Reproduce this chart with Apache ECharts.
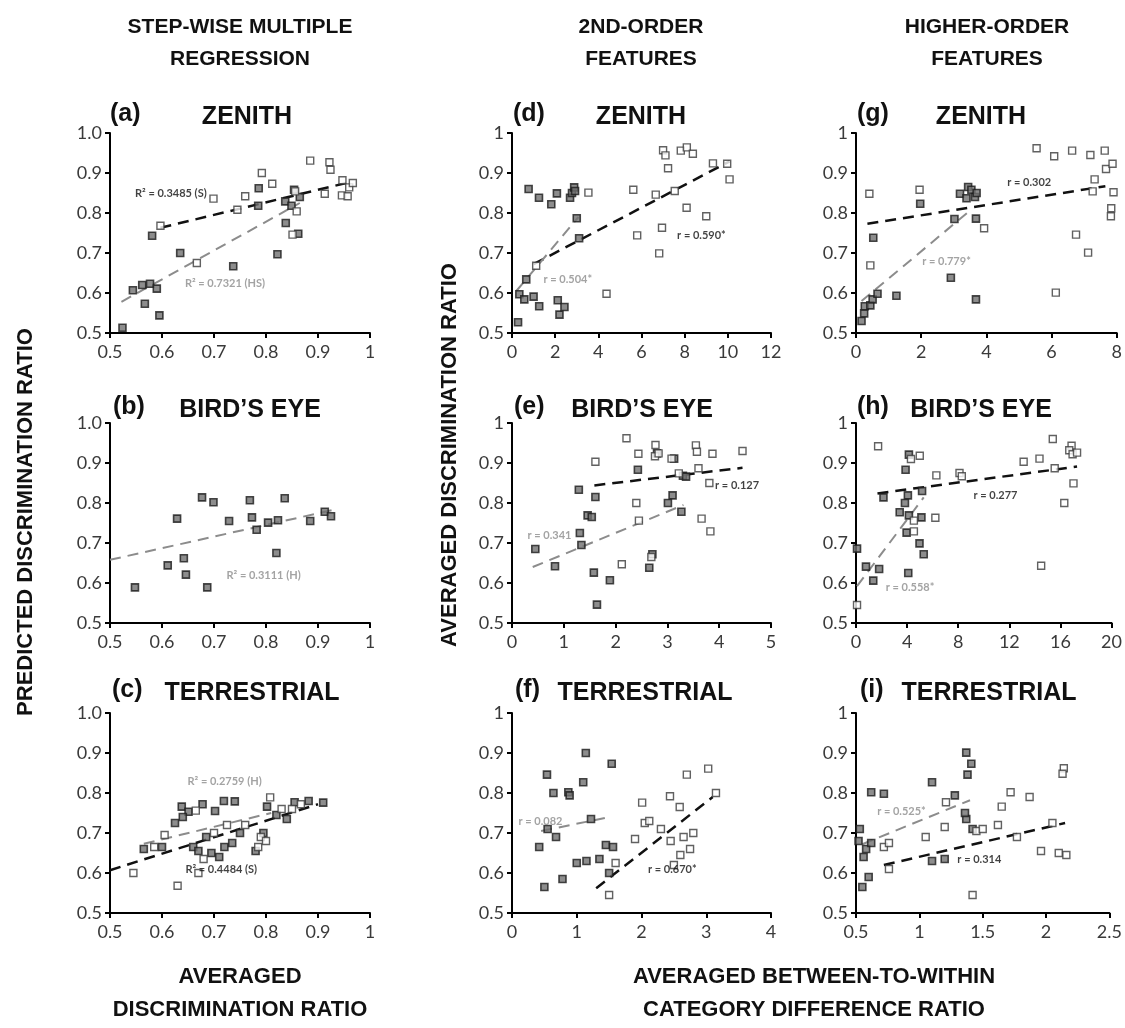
<!DOCTYPE html>
<html><head><meta charset="utf-8">
<script src="https://cdn.jsdelivr.net/npm/echarts/dist/echarts.min.js"></script>
<style>html,body{margin:0;padding:0;background:#fff}#c{width:1125px;height:1028px}</style>
</head><body><div id="c"></div>
<script>
// ---------- DATA ----------
// (a) Zenith, step-wise multiple regression
const aFilled = [[0.524,0.513],[0.544,0.607],[0.562,0.62],[0.577,0.623],[0.567,0.573],[0.59,0.611],[0.595,0.544],[0.581,0.743],[0.635,0.70],[0.737,0.667],[0.786,0.862],[0.785,0.818],[0.822,0.697],[0.838,0.775],[0.837,0.829],[0.849,0.818],[0.854,0.858],[0.865,0.84],[0.862,0.748]];
const aOpen = [[0.597,0.768],[0.667,0.675],[0.699,0.836],[0.745,0.808],[0.76,0.842],[0.792,0.90],[0.812,0.873],[0.851,0.746],[0.859,0.804],[0.856,0.854],[0.885,0.931],[0.913,0.848],[0.922,0.927],[0.924,0.908],[0.947,0.882],[0.946,0.844],[0.957,0.842],[0.96,0.864],[0.967,0.875]];
const aTrendBlack = [[0.597,0.763],[0.967,0.879]];
const aTrendGray = [[0.522,0.578],[0.865,0.825]];
const aLabelBlack = [0.548,0.85];
const aLabelGray = [0.644,0.625];
// (b) Bird's eye
const bFilled = [[0.629,0.761],[0.677,0.814],[0.699,0.802],[0.729,0.755],[0.769,0.807],[0.773,0.764],[0.782,0.733],[0.804,0.751],[0.823,0.757],[0.836,0.812],[0.82,0.675],[0.885,0.755],[0.913,0.778],[0.925,0.767],[0.642,0.662],[0.548,0.589],[0.611,0.644],[0.646,0.621],[0.687,0.589]];
const bOpen = [];
const bTrendGray = [[0.5,0.658],[0.927,0.782]];
const bLabelGray = [0.724,0.62];
// (c) Terrestrial
const cFilled = [[0.638,0.766],[0.651,0.753],[0.678,0.772],[0.702,0.755],[0.719,0.78],[0.74,0.779],[0.802,0.766],[0.855,0.777],[0.882,0.78],[0.91,0.776],[0.565,0.66],[0.6,0.665],[0.625,0.725],[0.64,0.74],[0.66,0.665],[0.67,0.655],[0.685,0.69],[0.695,0.65],[0.71,0.64],[0.72,0.665],[0.735,0.675],[0.75,0.70],[0.78,0.655],[0.795,0.70],[0.82,0.745],[0.84,0.735]];
const cOpen = [[0.665,0.756],[0.808,0.789],[0.867,0.772],[0.545,0.60],[0.585,0.665],[0.605,0.695],[0.63,0.568],[0.67,0.60],[0.68,0.635],[0.70,0.70],[0.725,0.72],[0.76,0.72],[0.785,0.665],[0.79,0.69],[0.80,0.68],[0.83,0.76],[0.85,0.76]];
const cTrendGray = [[0.565,0.673],[0.81,0.75]];
const cTrendBlack = [[0.5,0.607],[0.9,0.772]];
const cLabelGray = [0.649,0.828];
const cLabelBlack = [0.645,0.61];
// (d) Zenith, 2nd-order features
const dFilled = [[0.28,0.527],[0.34,0.597],[0.57,0.584],[0.66,0.634],[1.0,0.591],[1.26,0.567],[0.77,0.86],[1.25,0.838],[1.82,0.822],[2.08,0.849],[2.12,0.582],[2.2,0.546],[2.43,0.565],[2.69,0.838],[2.78,0.85],[2.88,0.864],[2.92,0.855],[3.0,0.787],[3.11,0.737]];
const dOpen = [[1.12,0.668],[3.54,0.851],[4.38,0.598],[5.62,0.858],[5.8,0.744],[6.66,0.846],[6.82,0.699],[6.95,0.763],[7.0,0.957],[7.11,0.944],[7.23,0.912],[7.54,0.855],[7.82,0.956],[8.1,0.964],[8.09,0.813],[8.38,0.948],[9.0,0.792],[9.31,0.924],[9.97,0.923],[10.08,0.884]];
const dTrendBlack = [[1.0,0.672],[10.08,0.929]];
const dTrendGray = [[0.2,0.605],[3.08,0.79]];
const dLabelBlack = [7.65,0.744];
const dLabelGray = [1.46,0.633];
// (e) Bird's eye, 2nd-order features
const eFilled = [[0.45,0.685],[1.29,0.833],[1.31,0.725],[1.34,0.695],[1.46,0.769],[1.54,0.765],[1.61,0.815],[2.43,0.883],[2.8,0.924],[3.13,0.911],[3.3,0.868],[3.36,0.866],[3.1,0.819],[3.01,0.80],[3.27,0.778],[2.71,0.672],[0.83,0.642],[1.58,0.626],[1.64,0.546],[1.89,0.607],[2.65,0.638]];
const eOpen = [[1.61,0.903],[2.21,0.962],[2.44,0.923],[2.77,0.945],[2.76,0.917],[2.83,0.924],[3.08,0.911],[3.22,0.874],[3.55,0.944],[3.57,0.928],[3.6,0.887],[3.87,0.923],[3.81,0.85],[3.66,0.761],[3.83,0.729],[2.4,0.80],[2.45,0.756],[2.12,0.647],[2.69,0.665],[4.45,0.93]];
const eTrendBlack = [[1.59,0.844],[4.45,0.888]];
const eTrendGray = [[0.4,0.64],[3.31,0.795]];
const eLabelBlack = [3.92,0.845];
const eLabelGray = [0.3,0.72];
// (f) Terrestrial, 2nd-order features
const fFilled = [[0.54,0.846],[0.64,0.80],[0.87,0.802],[0.89,0.794],[1.10,0.827],[1.14,0.90],[1.54,0.873],[0.42,0.665],[0.5,0.565],[0.55,0.71],[0.68,0.69],[0.78,0.585],[1.0,0.625],[1.15,0.63],[1.22,0.735],[1.35,0.635],[1.45,0.67],[1.5,0.60],[1.56,0.665]];
const fOpen = [[2.01,0.776],[2.44,0.792],[2.59,0.765],[2.70,0.846],[3.03,0.861],[3.15,0.80],[1.5,0.545],[1.6,0.625],[1.9,0.685],[2.05,0.725],[2.12,0.73],[2.3,0.71],[2.45,0.68],[2.5,0.62],[2.6,0.645],[2.65,0.69],[2.75,0.66],[2.8,0.70]];
const fTrendGray = [[0.45,0.705],[1.45,0.738]];
const fTrendBlack = [[1.3,0.562],[3.1,0.79]];
const fLabelGray = [0.1,0.73];
const fLabelBlack = [2.1,0.61];
// (g) Zenith, higher-order features
const gFilled = [[0.17,0.53],[0.25,0.549],[0.27,0.567],[0.44,0.569],[0.51,0.584],[0.66,0.598],[0.53,0.738],[1.24,0.593],[1.97,0.823],[2.91,0.638],[3.02,0.785],[3.19,0.848],[3.44,0.865],[3.39,0.837],[3.54,0.858],[3.65,0.84],[3.7,0.85],[3.68,0.786],[3.68,0.584]];
const gOpen = [[0.41,0.848],[0.44,0.669],[1.95,0.858],[3.93,0.762],[5.54,0.962],[6.08,0.942],[6.13,0.601],[6.63,0.956],[6.75,0.746],[7.12,0.701],[7.19,0.945],[7.32,0.884],[7.26,0.854],[7.63,0.956],[7.67,0.91],[7.87,0.923],[7.9,0.852],[7.83,0.812],[7.82,0.792]];
const gTrendBlack = [[0.35,0.773],[7.65,0.867]];
const gTrendGray = [[0.17,0.58],[3.44,0.802]];
const gLabelBlack = [4.64,0.877];
const gLabelGray = [2.03,0.679];
// (h) Bird's eye, higher-order features
const hFilled = [[2.15,0.814],[3.88,0.883],[4.06,0.819],[3.83,0.80],[3.42,0.777],[4.14,0.769],[3.96,0.726],[5.12,0.764],[5.17,0.83],[4.97,0.699],[5.3,0.672],[0.08,0.686],[4.14,0.921],[0.78,0.641],[1.81,0.635],[1.35,0.606],[4.09,0.625]];
const hOpen = [[1.73,0.942],[4.3,0.91],[4.99,0.918],[6.29,0.869],[8.1,0.875],[8.28,0.867],[6.21,0.763],[4.53,0.756],[4.53,0.729],[13.12,0.903],[14.36,0.911],[15.4,0.96],[15.55,0.887],[16.87,0.943],[16.69,0.932],[16.95,0.922],[17.3,0.926],[17.02,0.849],[16.3,0.80],[0.08,0.545],[14.49,0.643]];
const hTrendBlack = [[1.68,0.824],[17.3,0.891]];
const hTrendGray = [[0.08,0.592],[5.3,0.814]];
const hLabelBlack = [9.19,0.82];
const hLabelGray = [2.33,0.588];
// (i) Terrestrial, higher-order features
const iFilled = [[0.62,0.802],[0.72,0.798],[1.10,0.827],[1.28,0.794],[1.37,0.901],[1.41,0.873],[1.38,0.846],[0.52,0.68],[0.53,0.71],[0.55,0.565],[0.56,0.64],[0.58,0.66],[0.6,0.59],[0.62,0.675],[1.1,0.63],[1.2,0.635],[1.37,0.735],[1.42,0.71],[1.36,0.75]];
const iOpen = [[1.21,0.777],[1.65,0.766],[1.72,0.802],[1.87,0.79],[2.14,0.862],[2.13,0.848],[0.72,0.665],[0.76,0.675],[0.76,0.61],[1.05,0.69],[1.2,0.715],[1.45,0.705],[1.5,0.71],[1.42,0.545],[1.62,0.72],[1.77,0.69],[1.96,0.655],[2.05,0.725],[2.1,0.65],[2.16,0.645]];
const iTrendGray = [[0.55,0.672],[1.4,0.782]];
const iTrendBlack = [[0.72,0.62],[2.15,0.725]];
const iLabelGray = [0.667,0.754];
const iLabelBlack = [1.3,0.635];

// axis ranges [min, max, interval]
const xRange1 = [0.5, 1, 0.1];
const yRange = [0.5, 1, 0.1];
const xRangeD = [0, 12, 2], xRangeE = [0, 5, 1], xRangeF = [0, 4, 1];
const xRangeG = [0, 8, 2], xRangeH = [0, 20, 4], xRangeI = [0.5, 2.5, 0.5];

const headers = [['STEP-WISE MULTIPLE','REGRESSION'],['2ND-ORDER','FEATURES'],['HIGHER-ORDER','FEATURES']];
const panelTags = ['(a)','(b)','(c)','(d)','(e)','(f)','(g)','(h)','(i)'];
const panelNames = ['ZENITH','BIRD’S EYE','TERRESTRIAL','ZENITH','BIRD’S EYE','TERRESTRIAL','ZENITH','BIRD’S EYE','TERRESTRIAL'];

// ---------- LAYOUT ----------
const colLeft = [110, 512, 856];
const colW = [260, 259, 262];
const rowTop = [133, 423, 713];
const rowH = 200;
const BLACK = '#111', GRAY = '#8c8c8c';

const panels = [
  {c:0,r:0,x:xRange1,xf:'c1',yf:'c1',f:aFilled,o:aOpen,t:[[aTrendBlack,BLACK],[aTrendGray,GRAY]],l:[[aLabelBlack,'R² = 0.3485 (S)',BLACK],[aLabelGray,'R² = 0.7321 (HS)',GRAY]]},
  {c:0,r:1,x:xRange1,xf:'c1',yf:'c1',f:bFilled,o:bOpen,t:[[bTrendGray,GRAY]],l:[[bLabelGray,'R² = 0.3111 (H)',GRAY]]},
  {c:0,r:2,x:xRange1,xf:'c1',yf:'c1',f:cFilled,o:cOpen,t:[[cTrendGray,GRAY],[cTrendBlack,BLACK]],l:[[cLabelGray,'R² = 0.2759 (H)',GRAY],[cLabelBlack,'R² = 0.4484 (S)',BLACK]]},
  {c:1,r:0,x:xRangeD,xf:'n',yf:'n',f:dFilled,o:dOpen,t:[[dTrendBlack,BLACK],[dTrendGray,GRAY]],l:[[dLabelBlack,'r = 0.590*',BLACK],[dLabelGray,'r = 0.504*',GRAY]]},
  {c:1,r:1,x:xRangeE,xf:'n',yf:'n',f:eFilled,o:eOpen,t:[[eTrendBlack,BLACK],[eTrendGray,GRAY]],l:[[eLabelBlack,'r = 0.127',BLACK],[eLabelGray,'r = 0.341',GRAY]]},
  {c:1,r:2,x:xRangeF,xf:'n',yf:'n',f:fFilled,o:fOpen,t:[[fTrendGray,GRAY],[fTrendBlack,BLACK]],l:[[fLabelGray,'r = 0.082',GRAY],[fLabelBlack,'r = 0.670*',BLACK]]},
  {c:2,r:0,x:xRangeG,xf:'n',yf:'n',f:gFilled,o:gOpen,t:[[gTrendBlack,BLACK],[gTrendGray,GRAY]],l:[[gLabelBlack,'r = 0.302',BLACK],[gLabelGray,'r = 0.779*',GRAY]]},
  {c:2,r:1,x:xRangeH,xf:'n',yf:'n',f:hFilled,o:hOpen,t:[[hTrendBlack,BLACK],[hTrendGray,GRAY]],l:[[hLabelBlack,'r = 0.277',BLACK],[hLabelGray,'r = 0.558*',GRAY]]},
  {c:2,r:2,x:xRangeI,xf:'n',yf:'n',f:iFilled,o:iOpen,t:[[iTrendGray,GRAY],[iTrendBlack,BLACK]],l:[[iLabelGray,'r = 0.525*',GRAY],[iLabelBlack,'r = 0.314',BLACK]]}
];
// title word centre x per panel
const nameCX = [247,250,252,641,642,645,981,981,989];
const tagLeft = [110,113,112,513,514,515,857,857,860];
const titleY = [117,410,693];

function fmtX(kind){return function(v){ if(kind==='c1'){return Math.abs(v-1)<1e-9?'1':v.toFixed(1);} return String(+v.toFixed(2)); };}
function fmtY(kind){return function(v){ if(kind==='c1'){return v.toFixed(1);} return Math.abs(v-1)<1e-9?'1':v.toFixed(1); };}

const grids=[], xAxes=[], yAxes=[], series=[], graphics=[];
const axisCommon = {
  axisLine:{show:true,onZero:false,lineStyle:{color:'#000',width:2}},
  axisTick:{show:true,inside:false,length:5,lineStyle:{color:'#000',width:2}},
  splitLine:{show:false}
};
const labelFont = {fontFamily:'Lato, "Noto Sans", sans-serif',fontSize:18,color:'#3a3a3a'};

panels.forEach((p,i)=>{
  grids.push({left:colLeft[p.c],top:rowTop[p.r],width:colW[p.c],height:rowH,containLabel:false});
  xAxes.push(Object.assign({gridIndex:i,type:'value',min:p.x[0],max:p.x[1],interval:p.x[2],
    axisLabel:Object.assign({formatter:fmtX(p.xf),margin:10},labelFont)},axisCommon));
  yAxes.push(Object.assign({gridIndex:i,type:'value',min:yRange[0],max:yRange[1],interval:yRange[2],
    axisLabel:Object.assign({formatter:fmtY(p.yf),margin:8},labelFont)},axisCommon));
  p.t.forEach(tr=>{
    series.push({type:'line',xAxisIndex:i,yAxisIndex:i,data:tr[0],symbol:'none',silent:true,z:2,
      lineStyle:{color:tr[1],width:tr[1]===BLACK?2.5:2,type:[11,7]}});
  });
  series.push({type:'scatter',xAxisIndex:i,yAxisIndex:i,data:p.f,symbol:'rect',symbolSize:7,z:3,
    itemStyle:{color:'#707070',borderColor:'#1c1c1c',borderWidth:1.6}});
  series.push({type:'scatter',xAxisIndex:i,yAxisIndex:i,data:p.o,symbol:'rect',symbolSize:7,z:3,
    itemStyle:{color:'#ffffff',borderColor:'#3a3a3a',borderWidth:1.4}});
  p.l.forEach(lb=>{
    series.push({type:'scatter',xAxisIndex:i,yAxisIndex:i,data:[lb[0]],symbolSize:0,z:4,silent:true,
      label:{show:true,position:'right',distance:0,formatter:lb[1],color:lb[2],
        fontFamily:'Lato, "Noto Sans", sans-serif',fontSize:11,fontWeight:'bold'}});
  });
  const ty = titleY[p.r];
  graphics.push({type:'text',left:tagLeft[i],top:ty-15,style:{text:panelTags[i],font:'bold 25px "Liberation Sans", Arial, sans-serif',fill:'#111'}});
  graphics.push({type:'text',x:nameCX[i],y:ty,style:{text:panelNames[i],font:'bold 25px "Liberation Sans", Arial, sans-serif',fill:'#111',textAlign:'center',textVerticalAlign:'middle'}});
});

const hdrCX = [240, 641, 987];
headers.forEach((h,k)=>{
  h.forEach((line,j)=>{
    graphics.push({type:'text',x:hdrCX[k],y:27+j*32,style:{text:line,font:'bold 21px "Liberation Sans", Arial, sans-serif',fill:'#111',textAlign:'center',textVerticalAlign:'middle'}});
  });
});
// axis titles
graphics.push({type:'text',x:26,y:522,rotation:Math.PI/2,style:{text:'PREDICTED DISCRIMINATION RATIO',font:'bold 22px "Liberation Sans", Arial, sans-serif',fill:'#111',textAlign:'center',textVerticalAlign:'middle'}});
graphics.push({type:'text',x:450,y:455,rotation:Math.PI/2,style:{text:'AVERAGED DISCRIMINATION RATIO',font:'bold 22px "Liberation Sans", Arial, sans-serif',fill:'#111',textAlign:'center',textVerticalAlign:'middle'}});
[['AVERAGED','DISCRIMINATION RATIO',240],['AVERAGED BETWEEN-TO-WITHIN','CATEGORY DIFFERENCE RATIO',814]].forEach(b=>{
  graphics.push({type:'text',x:b[2],y:977,style:{text:b[0],font:'bold 22px "Liberation Sans", Arial, sans-serif',fill:'#111',textAlign:'center',textVerticalAlign:'middle'}});
  graphics.push({type:'text',x:b[2],y:1010,style:{text:b[1],font:'bold 22px "Liberation Sans", Arial, sans-serif',fill:'#111',textAlign:'center',textVerticalAlign:'middle'}});
});

const chart = echarts.init(document.getElementById('c'),null,{renderer:'canvas'});
chart.setOption({animation:false,backgroundColor:'#fff',grid:grids,xAxis:xAxes,yAxis:yAxes,series:series,graphic:graphics});
</script></body></html>
